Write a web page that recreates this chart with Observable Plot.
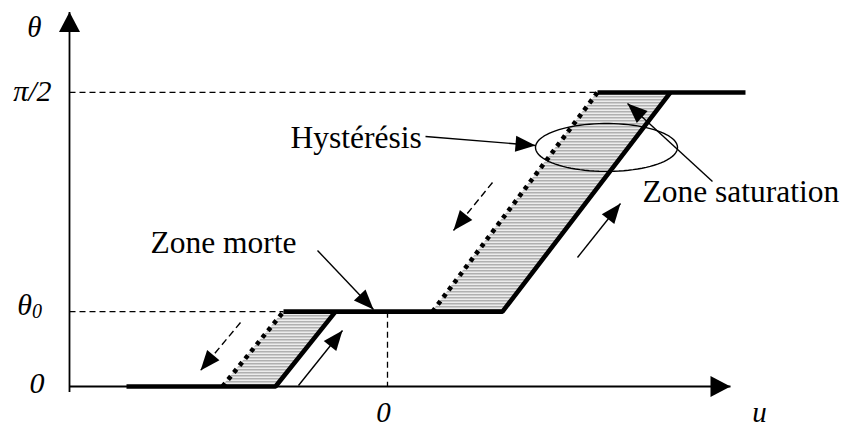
<!DOCTYPE html>
<html><head><meta charset="utf-8">
<script src="https://cdn.jsdelivr.net/npm/d3@7"></script>
<script src="https://cdn.jsdelivr.net/npm/@observablehq/plot@0.6"></script>
<style>body{margin:0;background:#fff}#chart{width:843px;height:430px}</style>
</head><body><div id="chart"></div>
<script>
// ---- levels ----
const THETA0 = 0.4;
const HALF_PI = Math.PI / 2;

// ---- thick characteristic (solid branches) ----
const solidPath  = ["A", "A", "A", "B", "B", "B", "C", "C"];
const solidU     = [-8.7, -3.733, -1.733, -3.467, 3.833, 9.433, 7.0, 11.933];
const solidTheta = [0, 0, THETA0, THETA0, THETA0, HALF_PI, HALF_PI, HALF_PI];

// ---- dotted (descending) branches ----
const dotPath  = ["L", "L", "U", "U"];
const dotU     = [-5.5, -3.467, 1.5, 7.0];
const dotTheta = [0, THETA0, THETA0, HALF_PI];

// ---- hysteresis (hatched) zones ----
const hystId    = ["L", "L", "U", "U"];
const hystTheta = [0, THETA0, THETA0, HALF_PI];
const hystLeft  = [-5.5, -3.467, 1.5, 7.0];
const hystRight = [-3.733, -1.733, 3.833, 9.433];

// ---- dashed reference lines ----
const refU1     = [-10.6, -10.6, 0];
const refU2     = [-3.467, 7.0, 0];
const refTheta1 = [THETA0, HALF_PI, THETA0];
const refTheta2 = [THETA0, HALF_PI, 0];

// ---- axes (tail -> tip) ----
const axisTailU     = [-10.6, -10.6];
const axisTailTheta = [0, -0.03];
const axisTipU      = [11.433, -10.6];
const axisTipTheta  = [0, 2.0];

// ---- annotation arrows (tail -> tip) ----
const arrowTailU     = [-2.333, 1.267, 10.833, 3.5, 6.333, -4.9, -2.967];
const arrowTailTheta = [0.7266, 1.3357, 1.0953, 1.0899, 0.6892, 0.3419, 0.0053];
const arrowTipU      = [-0.467, 4.933, 8.0, 2.2, 7.767, -6.233, -1.5];
const arrowTipTheta  = [0.4114, 1.2876, 1.512, 0.8335, 0.9777, 0.0855, 0.2992];
const arrowDashed    = [false, false, false, true, false, true, false];

// ---- saturation ellipse ----
const ellipseCenterU = 7.3, ellipseCenterTheta = 1.277;
const ellipseRadiusU = 2.367, ellipseRadiusTheta = 0.128;

// ---- annotation texts ----
const noteText  = ["Zone morte", "Hystérésis", "Zone saturation"];
const noteU     = [-7.9, -3.233, 8.5];
const noteTheta = [0.767, 1.3255, 1.0386];

// ---- axis / tick labels ----
const tickText  = ["0", "θ", "π/2"];
const tickTheta = [0.014, 0.435, 1.579];
const tickU     = [-11.433, -11.85, -11.2];
const subText = ["0"];
const subU = [-11.85];
const subTheta = [0.4];
const axisLabelText  = ["θ", "0", "u"];
const axisLabelU     = [-11.767, -0.133, 12.4];
const axisLabelTheta = [1.916, -0.142, -0.142];

// ---- scales ----
const W = 843, H = 430;
const xDomain = [-12.9, 15.2], yDomain = [-0.235, 2.062];
const xs = Plot.scale({x: {domain: xDomain, range: [0, W]}});
const ys = Plot.scale({y: {domain: yDomain, range: [H, 0]}});

function headSymbol(angleDeg, len, wid) {
  const a = angleDeg * Math.PI / 180, c = Math.cos(a), s = Math.sin(a);
  const rot = (px, py) => [px * c - py * s, px * s + py * c];
  return {
    draw(ctx, size) {
      const r = Math.sqrt(size / Math.PI);
      const L = len * r / 10, w = wid * r / 10;
      const p1 = rot(-w / 2, L), p2 = rot(w / 2, L);
      ctx.moveTo(0, 0);
      ctx.lineTo(p1[0], p1[1]);
      ctx.lineTo(p2[0], p2[1]);
      ctx.closePath();
    }
  };
}
function screenAngle(u1, t1, u2, t2) {
  const dx = xs.apply(u2) - xs.apply(u1);
  const dy = ys.apply(t2) - ys.apply(t1);
  return Math.atan2(dx, -dy) * 180 / Math.PI;
}

const idx = (n) => d3.range(n);
const serif = "Liberation Serif, Times New Roman, serif";

const marks = [];

// hatch areas
marks.push(Plot.areaX(idx(hystId.length), {
  y: hystTheta, x1: hystLeft, x2: hystRight, z: hystId,
  fill: "url(#hatch)", stroke: "none"
}));

// dashed reference lines
marks.push(Plot.link(idx(refU1.length), {
  x1: refU1, x2: refU2, y1: refTheta1, y2: refTheta2,
  stroke: "black", strokeWidth: 1.3, strokeDasharray: "6,4"
}));

// axes lines
marks.push(Plot.link(idx(2), {
  x1: axisTailU, y1: axisTailTheta, x2: axisTipU, y2: axisTipTheta,
  stroke: "black", strokeWidth: 1.8
}));
// axis heads
for (let i = 0; i < 2; i++) {
  const ang = screenAngle(axisTailU[i], axisTailTheta[i], axisTipU[i], axisTipTheta[i]);
  marks.push(Plot.dot([i], {
    x: [axisTipU[i]], y: [axisTipTheta[i]], r: 10,
    symbol: headSymbol(ang, 20, 21), fill: "black", stroke: "none"
  }));
}

// dotted branches
marks.push(Plot.line(idx(dotPath.length), {
  x: dotU, y: dotTheta, z: dotPath,
  stroke: "black", strokeWidth: 4.6, strokeDasharray: "4.2,4.8", strokeLinecap: "butt"
}));

// thick solid characteristic
marks.push(Plot.line(idx(solidPath.length), {
  x: solidU, y: solidTheta, z: solidPath,
  stroke: "black", strokeWidth: 4.6, strokeLinejoin: "miter", strokeLinecap: "butt"
}));

// ellipse
const ell = d3.range(0, 361, 4).map(a => a * Math.PI / 180);
marks.push(Plot.line(ell, {
  x: a => ellipseCenterU + ellipseRadiusU * Math.cos(a),
  y: a => ellipseCenterTheta + ellipseRadiusTheta * Math.sin(a),
  stroke: "black", strokeWidth: 1.4
}));

// annotation arrows
for (let i = 0; i < arrowTailU.length; i++) {
  marks.push(Plot.link([i], {
    x1: [arrowTailU[i]], y1: [arrowTailTheta[i]], x2: [arrowTipU[i]], y2: [arrowTipTheta[i]],
    stroke: "black", strokeWidth: 1.4,
    strokeDasharray: arrowDashed[i] ? "7,4" : null
  }));
  const ang = screenAngle(arrowTailU[i], arrowTailTheta[i], arrowTipU[i], arrowTipTheta[i]);
  marks.push(Plot.dot([i], {
    x: [arrowTipU[i]], y: [arrowTipTheta[i]], r: 10,
    symbol: headSymbol(ang, 20, 16), fill: "black", stroke: "none"
  }));
}

// texts
marks.push(Plot.text(noteText, {
  x: noteU, y: noteTheta, text: d => d, textAnchor: "start",
  fontFamily: serif, fontSize: 31.5, fill: "black"
}));
marks.push(Plot.text(tickText, {
  x: tickU, y: tickTheta, text: d => d, textAnchor: "end",
  fontFamily: serif, fontSize: 30, fontStyle: "italic", fill: "black"
}));
marks.push(Plot.text(subText, {
  x: subU, y: subTheta, text: d => d, textAnchor: "start",
  fontFamily: serif, fontSize: 20, fontStyle: "italic", fill: "black"
}));
marks.push(Plot.text(axisLabelText, {
  x: axisLabelU, y: axisLabelTheta, text: d => d, textAnchor: "middle",
  fontFamily: serif, fontSize: 29, fontStyle: "italic", fill: "black"
}));

const svg = Plot.plot({
  width: W, height: H,
  marginTop: 0, marginRight: 0, marginBottom: 0, marginLeft: 0,
  x: {domain: xDomain, range: [0, W], axis: null},
  y: {domain: yDomain, range: [H, 0], axis: null},
  style: {background: "white", overflow: "visible"},
  marks
});

// hatch pattern definition
const defs = d3.select(svg).insert("defs", ":first-child");
const pat = defs.append("pattern").attr("id", "hatch")
  .attr("patternUnits", "userSpaceOnUse").attr("width", 6).attr("height", 3);
pat.append("rect").attr("width", 6).attr("height", 3).attr("fill", "#ececec");
pat.append("rect").attr("width", 6).attr("height", 1.5).attr("fill", "#b0b0b0");

document.getElementById("chart").appendChild(svg);
</script>
</body></html>
